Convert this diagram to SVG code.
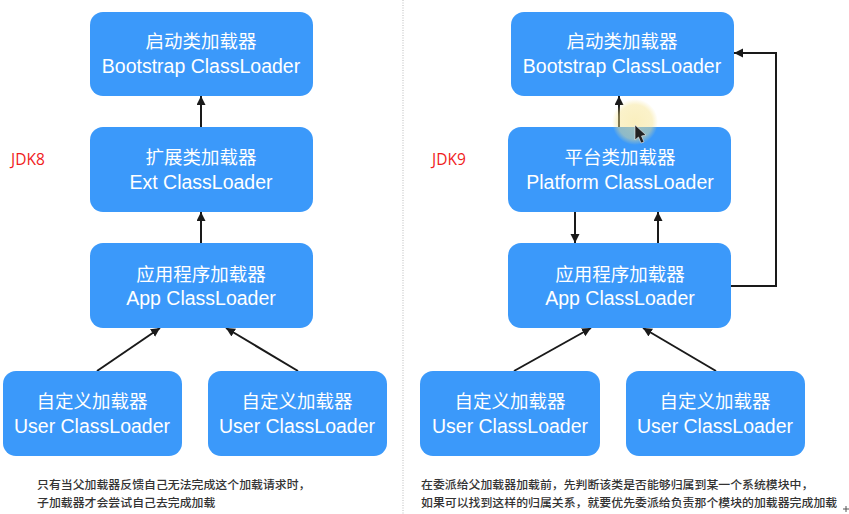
<svg xmlns="http://www.w3.org/2000/svg" width="849" height="514" viewBox="0 0 849 514">
<style>
.n{fill:#3b99fa}
.z{font:400 18.5px "Noto Sans CJK SC",sans-serif;fill:#fff;text-anchor:middle}
.e{font:19.5px "Liberation Sans",sans-serif;fill:#fff;text-anchor:middle}
.c{fill:none;stroke:#1a1a1a;stroke-width:2}
.t{font:500 11.9px "Noto Sans CJK SC",sans-serif;fill:#333}
.r{font:15.5px "Open Sans",sans-serif;fill:#f01c1c}
</style>
<defs>
<marker id="a" markerUnits="userSpaceOnUse" markerWidth="10" markerHeight="10" refX="9" refY="4.500" orient="auto"><path d="M0 0L9 4.500L0 9Z" fill="#1a1a1a"/></marker>
<radialGradient id="g"><stop offset="0" stop-color="#f5e28a" stop-opacity=".55"/><stop offset=".75" stop-color="#f5e28a" stop-opacity=".45"/><stop offset="1" stop-color="#f5e28a" stop-opacity="0"/></radialGradient>
</defs>
<rect width="849" height="514" fill="#fff"/>
<line x1="403" y1="0" x2="403" y2="514" stroke="#bbb" stroke-dasharray="1 1.500"/>
<g id="connectors">
<path class="c" marker-end="url(#a)" d="M201 127V96"/>
<path class="c" marker-end="url(#a)" d="M201 243V212"/>
<path class="c" marker-end="url(#a)" d="M97 371L160 328"/>
<path class="c" marker-end="url(#a)" d="M298 371L226 328"/>
<path class="c" marker-end="url(#a)" d="M619 127V96"/>
<path class="c" marker-end="url(#a)" d="M575 212V243"/>
<path class="c" marker-end="url(#a)" d="M658 243V212"/>
<path class="c" marker-end="url(#a)" d="M514 371L591 328"/>
<path class="c" marker-end="url(#a)" d="M716 371L643 328"/>
<path class="c" marker-end="url(#a)" d="M731 286H776V53H734"/>
</g>
<g id="n1"><rect class="n" x="90" y="12" width="223" height="84" rx="13"/><text class="z" x="201" y="48">启动类加载器</text><text class="e" x="201" y="73">Bootstrap ClassLoader</text></g>
<g id="n2"><rect class="n" x="90" y="127" width="223" height="85" rx="13"/><text class="z" x="201" y="164">扩展类加载器</text><text class="e" x="201" y="189">Ext ClassLoader</text></g>
<g id="n3"><rect class="n" x="90" y="243" width="223" height="85" rx="13"/><text class="z" x="201" y="281">应用程序加载器</text><text class="e" x="201" y="305">App ClassLoader</text></g>
<g id="n4"><rect class="n" x="3" y="371" width="179" height="85" rx="13"/><text class="z" x="92" y="408">自定义加载器</text><text class="e" x="92" y="433">User ClassLoader</text></g>
<g id="n5"><rect class="n" x="208" y="371" width="179" height="85" rx="13"/><text class="z" x="297" y="408">自定义加载器</text><text class="e" x="297" y="433">User ClassLoader</text></g>
<g id="n6"><rect class="n" x="511" y="12" width="223" height="84" rx="13"/><text class="z" x="622" y="48">启动类加载器</text><text class="e" x="622" y="73">Bootstrap ClassLoader</text></g>
<g id="n7"><rect class="n" x="508" y="127" width="223" height="85" rx="13"/><text class="z" x="620" y="164">平台类加载器</text><text class="e" x="620" y="189">Platform ClassLoader</text></g>
<g id="n8"><rect class="n" x="508" y="243" width="223" height="85" rx="13"/><text class="z" x="620" y="281">应用程序加载器</text><text class="e" x="620" y="305">App ClassLoader</text></g>
<g id="n9"><rect class="n" x="420" y="371" width="180" height="85" rx="13"/><text class="z" x="510" y="408">自定义加载器</text><text class="e" x="510" y="433">User ClassLoader</text></g>
<g id="n10"><rect class="n" x="626" y="371" width="179" height="85" rx="13"/><text class="z" x="715" y="408">自定义加载器</text><text class="e" x="715" y="433">User ClassLoader</text></g>
<text class="r" x="11" y="165">JDK8</text>
<text class="r" x="432" y="165">JDK9</text>
<text class="t" x="37" y="489">只有当父加载器反馈自己无法完成这个加载请求时，</text>
<text class="t" x="37" y="507">子加载器才会尝试自己去完成加载</text>
<text class="t" x="421" y="489">在委派给父加载器加载前，先判断该类是否能够归属到某一个系统模块中，</text>
<text class="t" x="421" y="507">如果可以找到这样的归属关系，就要优先委派给负责那个模块的加载器完成加载</text>
<circle cx="635" cy="122" r="23" fill="url(#g)"/>
<path d="M635 125V140L638.500 137L641 143L644 142L641.500 136L646 135Z" fill="#222" stroke="#eee" stroke-width=".6"/>
<path d="M846 506V512M843 509H849" stroke="#555" stroke-width="1"/>
</svg>
